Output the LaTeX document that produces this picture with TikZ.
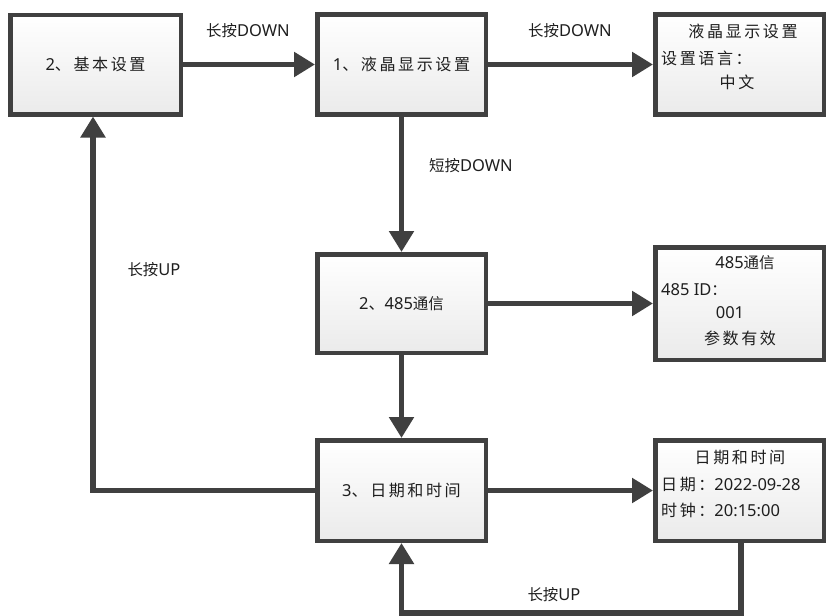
\documentclass[tikz,border=0pt]{standalone}
\usepackage{fontspec}
\setmainfont{Noto Sans}[Scale=1.1]
\newfontfamily\cj{Noto Sans CJK SC}[Scale=1.03]
\newfontfamily\cjs{Noto Sans CJK SC}[Scale=1.07,LetterSpace=16]
\usetikzlibrary{arrows.meta,shadows}
\definecolor{edge}{HTML}{404040}
\definecolor{ink}{HTML}{1E1E1E}
\begin{document}
\begin{tikzpicture}[x=1pt,y=-1pt,
  box/.style={draw=edge,line width=4.5pt,top color=white,bottom color=gray!16,
    drop shadow={opacity=0.25,shadow xshift=2pt,shadow yshift=-2pt},
    inner sep=0pt,font=\fontsize{15}{18}\selectfont,text=ink,
    minimum width=168.5pt},
  conn/.style={draw=edge,line width=5.5pt,-{Triangle[width=24pt,length=21pt]}},
  lbl/.style={font=\fontsize{15}{18}\selectfont,text=ink,inner sep=0pt}]
\fill[white] (0,0) rectangle (828,616);
\useasboundingbox (0,0) rectangle (828,616);
% boxes
\node[box,minimum width=170.5pt,minimum height=99.5pt] (A) at (95.5,64.5) {2\cjs 、基本设置};
\node[box,minimum height=100pt] (B) at (401.5,64.5) {1\cjs 、液晶显示设置};
\node[box,minimum height=100pt] (C) at (739.5,64.5) {};
\node[box,minimum height=98.5pt] (D) at (401.5,303.5) {2\cjs 、\rmfamily 485\cj 通信};
\node[box,minimum height=112.5pt] (E) at (739.5,303.5) {};
\node[box,minimum height=100.5pt] (F) at (401.5,490.5) {3\cjs 、日期和时间};
\node[box,minimum height=100.5pt] (G) at (739.5,490.5) {};
% texts inside right boxes
\node[lbl] (c1) at (743,31) {\cjs 液晶显示设置};
\node[lbl,anchor=west] (c2) at (661,58) {\cjs 设置语言：};
\node[lbl] (c3) at (737,82) {\cjs 中文};
\node[lbl] (e1) at (745,263) {485\cj 通信};
\node[lbl,anchor=west] (e2) at (661,290) {485 ID\cj ：};
\node[lbl] (e3) at (730,313) {001};
\node[lbl] (e4) at (740,338) {\cjs 参数有效};
\node[lbl] (g1) at (740,457) {\cjs 日期和时间};
\node[lbl,anchor=west] (g2) at (661,485) {\cjs 日期：\rmfamily 2022-09-28};
\node[lbl,anchor=west] (g3) at (661,510) {\cjs 时钟：\rmfamily 20:15:00};
% connectors
\draw[conn] (A) -- (B);
\draw[conn] (B) -- (C);
\draw[conn] (B) -- (D);
\draw[conn] (D) -- (E);
\draw[conn] (D) -- (F);
\draw[conn] (F) -- (G);
\coordinate (lp) at (741,613);
\draw[conn] (G.south -| lp) -- (lp) -| (F.south);
\coordinate (lx) at (93,0);
\draw[conn] (F.west) -- (F.west -| lx) -- (lx |- A.south);
% labels
\node[lbl] (l1) at (248,31) {\cj 长按\rmfamily DOWN};
\node[lbl] (l2) at (570,31) {\cj 长按\rmfamily DOWN};
\node[lbl] (l3) at (471,166) {\cj 短按\rmfamily DOWN};
\node[lbl] (l4) at (154,270) {\cj 长按\rmfamily UP};
\node[lbl] (l5) at (554,595) {\cj 长按\rmfamily UP};
\end{tikzpicture}
\end{document}
